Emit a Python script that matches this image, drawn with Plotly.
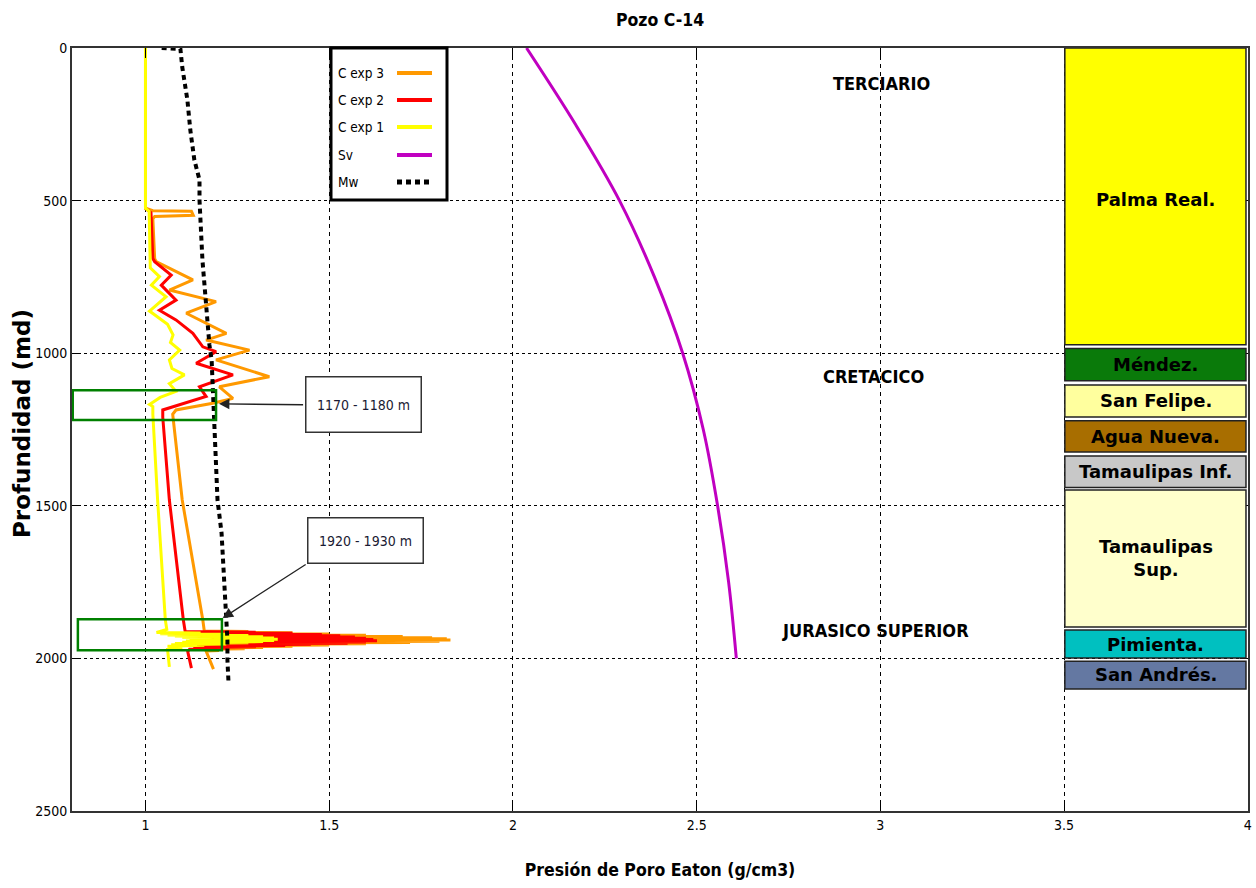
import plotly.graph_objects as go

# ---------------- data ----------------
mw_x = [1.044, 1.095, 1.100, 1.114, 1.122, 1.133, 1.147, 1.147, 1.155, 1.163, 1.174, 1.180,
        1.182, 1.185, 1.196, 1.207, 1.218, 1.223, 1.223, 1.226]
mw_depth = [0, 3, 62, 170, 269, 367, 432, 498, 695, 826, 973, 1022,
            1088, 1153, 1481, 1589, 1809, 1940, 2005, 2081]

sv_x = [2.037, 2.170, 2.290, 2.385, 2.462, 2.518, 2.557, 2.587, 2.608]
sv_depth = [0, 250, 500, 750, 1000, 1250, 1500, 1750, 2000]

c1_x = [1.0, 1.0, 1.01, 1.011, 1.013, 1.038, 1.016, 1.056, 1.011, 1.06, 1.075, 1.068, 1.093,
        1.065, 1.072, 1.106, 1.065, 1.083, 1.04, 1.011, 1.02, 1.02, 1.033, 1.054, 1.058,
        1.03, 1.15, 1.04, 1.22, 1.06, 1.28, 1.08, 1.32, 1.10, 1.35, 1.12, 1.36, 1.12, 1.35,
        1.11, 1.32, 1.10, 1.28, 1.08, 1.22, 1.07, 1.16, 1.06, 1.10, 1.06, 1.065]
c1_depth = [0, 525, 535, 695, 720, 749, 777, 815, 862, 905, 940, 965, 990,
            1022, 1050, 1071, 1100, 1125, 1145, 1168, 1175, 1200, 1481, 1874, 1905,
            1915, 1917, 1919, 1921, 1923, 1925, 1927, 1929, 1931, 1933, 1935, 1937, 1939, 1941,
            1943, 1945, 1947, 1949, 1951, 1953, 1955, 1957, 1960, 1965, 1970, 2028]

c2_x = [1.0, 1.0, 1.015, 1.02, 1.025, 1.07, 1.043, 1.083, 1.038, 1.083, 1.129, 1.156, 1.192,
        1.138, 1.238, 1.147, 1.165, 1.093, 1.065, 1.047, 1.047, 1.065, 1.103, 1.108,
        1.30, 1.12, 1.40, 1.14, 1.48, 1.15, 1.53, 1.16, 1.57, 1.18, 1.60, 1.20, 1.62, 1.22,
        1.63, 1.20, 1.60, 1.18, 1.55, 1.16, 1.45, 1.15, 1.38, 1.14, 1.30, 1.13, 1.22, 1.12,
        1.115, 1.125]
c2_depth = [0, 525, 540, 690, 700, 744, 777, 826, 859, 891, 935, 979, 995,
            1033, 1071, 1110, 1142, 1170, 1180, 1186, 1210, 1481, 1874, 1912,
            1914, 1916, 1918, 1920, 1922, 1924, 1926, 1928, 1930, 1932, 1934, 1936, 1938, 1940,
            1942, 1944, 1946, 1948, 1950, 1952, 1954, 1956, 1958, 1960, 1962, 1964, 1966, 1970,
            1978, 2032]

c3_x = [1.0, 1.0, 1.02, 1.125, 1.13, 1.025, 1.02, 1.025, 1.029, 1.129, 1.065, 1.192, 1.111,
        1.22, 1.165, 1.283, 1.192, 1.337, 1.201, 1.238, 1.183, 1.083, 1.074, 1.10, 1.156,
        1.16, 1.28, 1.17, 1.40, 1.20, 1.50, 1.22, 1.60, 1.25, 1.70, 1.28, 1.78, 1.30, 1.82,
        1.32, 1.83, 1.30, 1.80, 1.28, 1.72, 1.25, 1.60, 1.22, 1.50, 1.20, 1.40, 1.18, 1.32,
        1.17, 1.27, 1.16, 1.20, 1.165, 1.185]
c3_depth = [0, 525, 533, 535, 548, 552, 560, 690, 700, 760, 793, 831, 869,
            935, 957, 990, 1022, 1077, 1110, 1148, 1164, 1186, 1200, 1481, 1874,
            1910, 1912, 1914, 1916, 1918, 1920, 1922, 1924, 1926, 1928, 1930, 1932, 1934, 1936,
            1938, 1940, 1942, 1944, 1946, 1948, 1950, 1952, 1954, 1956, 1958, 1960, 1962, 1964,
            1966, 1968, 1970, 1974, 1976, 2035]

formations = ["Palma Real.", "Méndez.", "San Felipe.", "Agua Nueva.", "Tamaulipas Inf.",
              "Tamaulipas<br>Sup.", "Pimienta.", "San Andrés."]
form_top = [0, 985, 1104, 1221, 1337, 1448, 1907, 2009]
form_bottom = [972, 1090, 1209, 1324, 1440, 1897, 1999, 2100]
form_colors = ["#FFFF00", "#0A7A0A", "#FFFF9E", "#A86E00", "#C8C8C8", "#FFFFCC", "#00C0C0", "#6478A2"]
form_label_depth = [498, 1037, 1156, 1272, 1388, 1672, 1953, 2054]

eras = ["TERCIARIO", "CRETACICO", "JURASICO SUPERIOR"]
era_x = [3.003, 2.98, 2.987]
era_depth = [115, 1075, 1907]

zones = ["1170 - 1180 m", "1920 - 1930 m"]
zone_x0 = [0.802, 0.816]
zone_x1 = [1.192, 1.208]
zone_top = [1121, 1872]
zone_bottom = [1219, 1973]
label_x = [1.594, 1.599]
label_depth = [1168, 1615]
arrow_tail_x = [1.433, 1.44]
arrow_tail_depth = [1169, 1689]
arrow_head_x = [1.20, 1.21]
arrow_head_depth = [1166, 1868]

x_ticks = [1, 1.5, 2, 2.5, 3, 3.5, 4]
x_tick_labels = ["1", "1.5", "2", "2.5", "3", "3.5", "4"]
y_ticks = [0, 500, 1000, 1500, 2000, 2500]

NARROW = "DejaVu Sans Condensed, Liberation Sans Narrow, Arial Narrow, Liberation Sans, Arial, sans-serif"
WIDE = "DejaVu Sans, Liberation Sans, Arial, sans-serif"

fig = go.Figure()
fig.add_trace(go.Scatter(x=c3_x, y=c3_depth, mode="lines", name="C exp 3",
                         line=dict(color="#FF9900", width=3)))
fig.add_trace(go.Scatter(x=c2_x, y=c2_depth, mode="lines", name="C exp 2",
                         line=dict(color="#FF0000", width=3)))
fig.add_trace(go.Scatter(x=c1_x, y=c1_depth, mode="lines", name="C exp 1",
                         line=dict(color="#FFFF00", width=3)))
fig.add_trace(go.Scatter(x=sv_x, y=sv_depth, mode="lines", name="Sv", line_shape="spline",
                         line=dict(color="#C000C0", width=3)))
fig.add_trace(go.Scatter(x=mw_x, y=mw_depth, mode="lines", name="Mw",
                         line=dict(color="black", width=4, dash="5px,4px")))

shapes = []
annotations = []

# formation column
for name, t, b, c, ld in zip(formations, form_top, form_bottom, form_colors, form_label_depth):
    shapes.append(dict(type="rect", xref="x", yref="y", x0=3.502, x1=3.995, y0=t, y1=b,
                       fillcolor=c, line=dict(color="#222", width=1.5), layer="above"))
    annotations.append(dict(x=3.75, y=ld, xref="x", yref="y", text="<b>%s</b>" % name,
                            showarrow=False, font=dict(family=WIDE, size=18, color="black")))

for e, ex, ed in zip(eras, era_x, era_depth):
    annotations.append(dict(x=ex, y=ed, xref="x", yref="y", text="<b>%s</b>" % e, showarrow=False,
                            font=dict(family=NARROW, size=18, color="black")))

# zones
for i in range(len(zones)):
    shapes.append(dict(type="rect", xref="x", yref="y", x0=zone_x0[i], x1=zone_x1[i],
                       y0=zone_top[i], y1=zone_bottom[i], line=dict(color="#008000", width=2.5)))
    annotations.append(dict(x=label_x[i], y=label_depth[i], xref="x", yref="y", text=zones[i],
                            showarrow=False, bgcolor="white", bordercolor="#333", borderwidth=1.5,
                            width=112, height=42 if i == 1 else 52,
                            font=dict(family=NARROW, size=14, color="#1a1a33")))
    annotations.append(dict(x=arrow_head_x[i], y=arrow_head_depth[i], xref="x", yref="y",
                            ax=arrow_tail_x[i], ay=arrow_tail_depth[i], axref="x", ayref="y",
                            text="", showarrow=True, arrowhead=2, arrowsize=1.6, arrowwidth=1.3,
                            arrowcolor="#222"))

# custom legend (text left, sample right)
def px2x(p):
    return (p - 72) / 1176.0

def py2y(p):
    return 1 - (p - 48) / 763.0

shapes.append(dict(type="rect", xref="paper", yref="paper", x0=px2x(331), x1=px2x(447),
                   y0=py2y(200), y1=py2y(48), line=dict(color="black", width=3),
                   fillcolor="white", layer="above"))
leg_names = ["C exp 3", "C exp 2", "C exp 1", "Sv", "Mw"]
leg_colors = ["#FF9900", "#FF0000", "#FFFF00", "#C000C0", "black"]
leg_dash = ["solid", "solid", "solid", "solid", "5px,4px"]
leg_rows = [73, 100, 127, 155, 182]
for n, c, d, r in zip(leg_names, leg_colors, leg_dash, leg_rows):
    annotations.append(dict(x=px2x(336), y=py2y(r), xref="paper", yref="paper", text=n,
                            xanchor="left", yanchor="middle", showarrow=False,
                            font=dict(family=NARROW, size=13.5, color="black")))
    shapes.append(dict(type="line", xref="paper", yref="paper", x0=px2x(397), x1=px2x(432),
                       y0=py2y(r), y1=py2y(r), line=dict(color=c, width=4 if d == "solid" else 5, dash=d),
                       layer="above"))

# y-axis title (placed precisely)
annotations.append(dict(x=px2x(22), y=py2y(424), xref="paper", yref="paper",
                        text="<b>Profundidad (md)</b>", textangle=-90, showarrow=False,
                        xanchor="center", yanchor="middle",
                        font=dict(family=WIDE, size=23, color="black")))

fig.update_layout(
    width=1256, height=888,
    margin=dict(l=72, r=8, t=48, b=77, autoexpand=False),
    paper_bgcolor="white", plot_bgcolor="white",
    showlegend=False,
    title=dict(text="<b>Pozo C-14</b>", x=660 / 1256, xanchor="center", y=1 - 20 / 888, yanchor="middle",
               font=dict(family=NARROW, size=17.5, color="black")),
    shapes=shapes, annotations=annotations,
    font=dict(family=NARROW, size=14, color="black"),
)
fig.update_xaxes(range=[0.8, 4.0005], tickvals=x_ticks, ticktext=x_tick_labels, ticks="inside", ticklen=10,
                 tickcolor="black", showgrid=True, gridcolor="black", gridwidth=1, griddash="4px,4px",
                 showline=True, linecolor="#333", linewidth=2, mirror="ticks", zeroline=False,
                 automargin=True, tickfont=dict(family=NARROW, size=14),
                 title=dict(text="<b>Presión de Poro Eaton (g/cm3)</b>", standoff=32,
                            font=dict(family=NARROW, size=17.5)))
fig.update_yaxes(range=[2500, 0], tickvals=y_ticks, ticks="inside", ticklen=8,
                 tickcolor="black", showgrid=True, gridcolor="black", gridwidth=1, griddash="3px,3px",
                 showline=True, linecolor="#333", linewidth=2, mirror="ticks", zeroline=False,
                 automargin=False, tickfont=dict(family=NARROW, size=14))

fig.write_html("out.html", config={"displayModeBar": False},
               post_script="document.body.style.margin='0px';")
